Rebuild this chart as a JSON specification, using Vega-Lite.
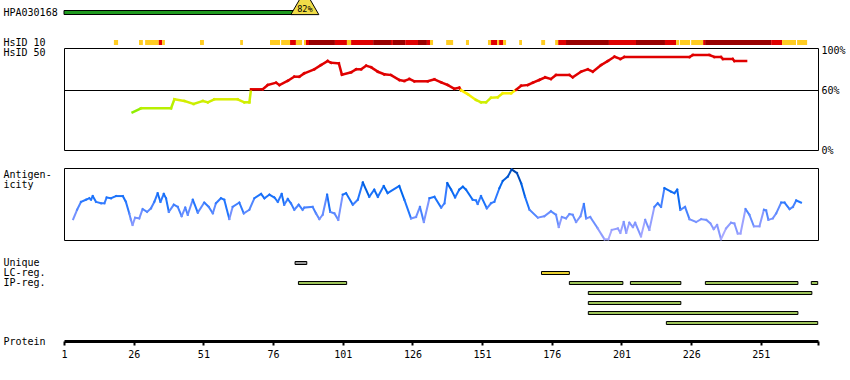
{
  "$schema": "https://vega.github.io/schema/vega-lite/v6.json",
  "background": "white",
  "padding": {"left": 2, "top": 0, "right": 2, "bottom": 2},
  "config": {
    "font": "DejaVu Sans Mono",
    "view": {"stroke": null},
    "axis": {"labelFont": "DejaVu Sans Mono", "titleFont": "DejaVu Sans Mono", "labelFontSize": 10, "titleFontSize": 10, "titleFontWeight": "normal", "labelColor": "black", "titleColor": "black", "grid": false}
  },
  "datasets": {
    "hpa": [{"track": "HPA030168", "s": 1, "e": 83.4, "c": 87.4, "label": "82%"}],
    "hs10": [
      {"track": "HsID 10", "s": 18.9, "e": 20.4, "l": "y"},
      {"track": "HsID 10", "s": 27.9, "e": 29.3, "l": "y"},
      {"track": "HsID 10", "s": 30.1, "e": 35.0, "l": "y"},
      {"track": "HsID 10", "s": 35.0, "e": 36.2, "l": "r"},
      {"track": "HsID 10", "s": 36.2, "e": 37.2, "l": "y"},
      {"track": "HsID 10", "s": 49.8, "e": 51.2, "l": "y"},
      {"track": "HsID 10", "s": 64.2, "e": 65.2, "l": "y"},
      {"track": "HsID 10", "s": 74.9, "e": 78.5, "l": "y"},
      {"track": "HsID 10", "s": 78.9, "e": 82.1, "l": "y"},
      {"track": "HsID 10", "s": 82.1, "e": 84.2, "l": "r"},
      {"track": "HsID 10", "s": 84.2, "e": 86.4, "l": "y"},
      {"track": "HsID 10", "s": 87.1, "e": 87.8, "l": "y"},
      {"track": "HsID 10", "s": 87.8, "e": 88.9, "l": "r"},
      {"track": "HsID 10", "s": 88.9, "e": 98.2, "l": "d"},
      {"track": "HsID 10", "s": 98.2, "e": 102.5, "l": "r"},
      {"track": "HsID 10", "s": 102.5, "e": 104.0, "l": "y"},
      {"track": "HsID 10", "s": 104.0, "e": 111.9, "l": "r"},
      {"track": "HsID 10", "s": 111.9, "e": 118.3, "l": "d"},
      {"track": "HsID 10", "s": 118.3, "e": 119.0, "l": "r"},
      {"track": "HsID 10", "s": 119.0, "e": 123.4, "l": "d"},
      {"track": "HsID 10", "s": 123.4, "e": 128.0, "l": "r"},
      {"track": "HsID 10", "s": 128.0, "e": 131.2, "l": "d"},
      {"track": "HsID 10", "s": 131.2, "e": 132.3, "l": "r"},
      {"track": "HsID 10", "s": 132.3, "e": 133.4, "l": "y"},
      {"track": "HsID 10", "s": 138.1, "e": 140.6, "l": "y"},
      {"track": "HsID 10", "s": 145.2, "e": 146.3, "l": "y"},
      {"track": "HsID 10", "s": 153.1, "e": 154.2, "l": "y"},
      {"track": "HsID 10", "s": 154.2, "e": 156.4, "l": "r"},
      {"track": "HsID 10", "s": 156.4, "e": 157.1, "l": "y"},
      {"track": "HsID 10", "s": 157.1, "e": 158.5, "l": "r"},
      {"track": "HsID 10", "s": 158.5, "e": 159.6, "l": "y"},
      {"track": "HsID 10", "s": 164.3, "e": 165.3, "l": "y"},
      {"track": "HsID 10", "s": 172.2, "e": 173.6, "l": "y"},
      {"track": "HsID 10", "s": 177.2, "e": 178.3, "l": "y"},
      {"track": "HsID 10", "s": 178.3, "e": 181.1, "l": "r"},
      {"track": "HsID 10", "s": 181.1, "e": 196.5, "l": "d"},
      {"track": "HsID 10", "s": 196.5, "e": 206.2, "l": "r"},
      {"track": "HsID 10", "s": 206.2, "e": 216.6, "l": "d"},
      {"track": "HsID 10", "s": 216.6, "e": 220.6, "l": "r"},
      {"track": "HsID 10", "s": 220.6, "e": 221.7, "l": "y"},
      {"track": "HsID 10", "s": 222.0, "e": 225.6, "l": "y"},
      {"track": "HsID 10", "s": 226.0, "e": 230.3, "l": "y"},
      {"track": "HsID 10", "s": 230.3, "e": 231.0, "l": "r"},
      {"track": "HsID 10", "s": 231.0, "e": 254.7, "l": "d"},
      {"track": "HsID 10", "s": 254.7, "e": 258.6, "l": "r"},
      {"track": "HsID 10", "s": 258.6, "e": 263.6, "l": "y"},
      {"track": "HsID 10", "s": 264.0, "e": 267.6, "l": "y"}
    ],
    "hs50": [
      {"r": 25.6, "v": 37.7}, {"r": 28.6, "v": 41.7}, {"r": 39.4, "v": 41.7}, {"r": 40.6, "v": 50.7},
      {"r": 44.2, "v": 49}, {"r": 47.5, "v": 46}, {"r": 50.8, "v": 49}, {"r": 52.6, "v": 47.7},
      {"r": 54.9, "v": 50.7}, {"r": 63.3, "v": 50.7}, {"r": 65.7, "v": 47.7}, {"r": 67.5, "v": 47.7},
      {"r": 68.1, "v": 60.7}, {"r": 72.3, "v": 60.7}, {"r": 74.1, "v": 65}, {"r": 77.1, "v": 67.3},
      {"r": 78.3, "v": 65}, {"r": 81.3, "v": 69.3}, {"r": 83.6, "v": 73.3}, {"r": 85.4, "v": 73.3},
      {"r": 87.2, "v": 76.7}, {"r": 90.8, "v": 80.7}, {"r": 93.2, "v": 85}, {"r": 95.6, "v": 89},
      {"r": 96.8, "v": 87.3}, {"r": 99.6, "v": 86.7}, {"r": 100.7, "v": 75.3}, {"r": 104.0, "v": 77.7},
      {"r": 105.8, "v": 80.7}, {"r": 107.6, "v": 80.7}, {"r": 109.4, "v": 84.3}, {"r": 111.2, "v": 82.7},
      {"r": 113.6, "v": 78.3}, {"r": 115.9, "v": 75.7}, {"r": 118.3, "v": 75}, {"r": 121.3, "v": 70},
      {"r": 123.1, "v": 69}, {"r": 124.9, "v": 71}, {"r": 126.7, "v": 68.7}, {"r": 131.5, "v": 68.7},
      {"r": 133.9, "v": 70.7}, {"r": 136.3, "v": 67.7}, {"r": 138.7, "v": 65}, {"r": 141.0, "v": 61.3},
      {"r": 142.8, "v": 62.3}, {"r": 143.4, "v": 59.8}, {"r": 145.9, "v": 55.7}, {"r": 148.8, "v": 50},
      {"r": 150.6, "v": 47.7}, {"r": 152.4, "v": 47.7}, {"r": 154.2, "v": 52.3}, {"r": 156.6, "v": 52.7},
      {"r": 158.4, "v": 56.7}, {"r": 161.4, "v": 56.7}, {"r": 163.2, "v": 60.2}, {"r": 165.0, "v": 64.3},
      {"r": 167.4, "v": 65}, {"r": 169.2, "v": 67.3}, {"r": 171.5, "v": 70}, {"r": 173.6, "v": 72.7},
      {"r": 175.7, "v": 71}, {"r": 177.5, "v": 75}, {"r": 182.3, "v": 75}, {"r": 183.5, "v": 72.7},
      {"r": 186.5, "v": 78.3}, {"r": 188.9, "v": 80.7}, {"r": 190.7, "v": 78.3}, {"r": 193.7, "v": 85},
      {"r": 196.1, "v": 89}, {"r": 198.5, "v": 93.3}, {"r": 200.6, "v": 91}, {"r": 202.0, "v": 93},
      {"r": 225.4, "v": 93}, {"r": 226.6, "v": 95}, {"r": 232.5, "v": 95}, {"r": 234.3, "v": 93},
      {"r": 236.7, "v": 93}, {"r": 237.4, "v": 91}, {"r": 240.9, "v": 91}, {"r": 241.5, "v": 89},
      {"r": 245.7, "v": 89}
    ],
    "ag": [
      {"r": 4.3, "v": 29}, {"r": 5.7, "v": 42}, {"r": 7.1, "v": 53}, {"r": 8.9, "v": 56}, {"r": 10.1, "v": 58},
      {"r": 10.7, "v": 56}, {"r": 11.3, "v": 61}, {"r": 12.5, "v": 53}, {"r": 14.3, "v": 51}, {"r": 15.5, "v": 51},
      {"r": 16.3, "v": 59}, {"r": 17.9, "v": 58}, {"r": 19.7, "v": 61}, {"r": 22.1, "v": 61}, {"r": 23.2, "v": 53},
      {"r": 24.4, "v": 37}, {"r": 25.0, "v": 28}, {"r": 25.6, "v": 21}, {"r": 26.5, "v": 31}, {"r": 28.0, "v": 30},
      {"r": 29.2, "v": 43}, {"r": 30.8, "v": 39}, {"r": 32.2, "v": 44}, {"r": 33.4, "v": 53}, {"r": 34.6, "v": 65},
      {"r": 35.6, "v": 53}, {"r": 36.8, "v": 64}, {"r": 37.6, "v": 58}, {"r": 38.6, "v": 39}, {"r": 40.4, "v": 49},
      {"r": 41.8, "v": 46}, {"r": 43.2, "v": 33}, {"r": 44.5, "v": 45}, {"r": 45.4, "v": 35}, {"r": 47.2, "v": 56},
      {"r": 49.0, "v": 38}, {"r": 51.3, "v": 52}, {"r": 52.9, "v": 46}, {"r": 54.4, "v": 37}, {"r": 55.5, "v": 51},
      {"r": 57.3, "v": 58}, {"r": 58.5, "v": 56}, {"r": 60.3, "v": 29}, {"r": 61.5, "v": 46}, {"r": 63.9, "v": 52},
      {"r": 65.5, "v": 37}, {"r": 67.5, "v": 42}, {"r": 69.3, "v": 58}, {"r": 71.7, "v": 64}, {"r": 72.9, "v": 58},
      {"r": 74.7, "v": 63}, {"r": 76.5, "v": 59}, {"r": 77.7, "v": 53}, {"r": 79.1, "v": 64}, {"r": 80.0, "v": 49},
      {"r": 81.3, "v": 57}, {"r": 82.4, "v": 51}, {"r": 83.6, "v": 42}, {"r": 85.2, "v": 49}, {"r": 86.6, "v": 42},
      {"r": 87.2, "v": 45}, {"r": 90.2, "v": 46}, {"r": 91.4, "v": 37}, {"r": 92.6, "v": 29}, {"r": 93.8, "v": 35},
      {"r": 95.4, "v": 63}, {"r": 96.5, "v": 39}, {"r": 98.0, "v": 37}, {"r": 99.4, "v": 28}, {"r": 101.0, "v": 63},
      {"r": 102.2, "v": 65}, {"r": 104.6, "v": 49}, {"r": 106.4, "v": 56}, {"r": 108.2, "v": 80}, {"r": 110.5, "v": 60},
      {"r": 112.3, "v": 70}, {"r": 113.6, "v": 60}, {"r": 115.7, "v": 75}, {"r": 117.1, "v": 65}, {"r": 121.3, "v": 75},
      {"r": 123.1, "v": 56}, {"r": 125.5, "v": 30}, {"r": 127.3, "v": 32}, {"r": 128.7, "v": 46}, {"r": 130.1, "v": 25},
      {"r": 132.1, "v": 58}, {"r": 133.9, "v": 60}, {"r": 136.3, "v": 45}, {"r": 137.5, "v": 51}, {"r": 138.5, "v": 79},
      {"r": 139.9, "v": 70}, {"r": 141.3, "v": 59}, {"r": 142.8, "v": 70}, {"r": 144.1, "v": 74}, {"r": 145.2, "v": 70},
      {"r": 147.6, "v": 56}, {"r": 148.8, "v": 55}, {"r": 149.4, "v": 50}, {"r": 150.6, "v": 61}, {"r": 152.7, "v": 44},
      {"r": 154.2, "v": 51}, {"r": 155.4, "v": 53}, {"r": 157.2, "v": 72}, {"r": 158.4, "v": 82}, {"r": 160.2, "v": 88},
      {"r": 161.6, "v": 98}, {"r": 163.5, "v": 93}, {"r": 165.0, "v": 79}, {"r": 166.4, "v": 60}, {"r": 168.0, "v": 42},
      {"r": 171.0, "v": 31}, {"r": 173.3, "v": 33}, {"r": 175.7, "v": 40}, {"r": 177.5, "v": 35}, {"r": 178.5, "v": 18},
      {"r": 179.6, "v": 32}, {"r": 181.1, "v": 30}, {"r": 182.3, "v": 36}, {"r": 183.5, "v": 35}, {"r": 184.7, "v": 25},
      {"r": 186.3, "v": 33}, {"r": 187.5, "v": 50}, {"r": 188.3, "v": 30}, {"r": 189.8, "v": 32}, {"r": 192.5, "v": 16},
      {"r": 194.9, "v": 1}, {"r": 196.3, "v": 1}, {"r": 197.5, "v": 14}, {"r": 199.7, "v": 16}, {"r": 200.6, "v": 10},
      {"r": 201.8, "v": 25}, {"r": 202.7, "v": 10}, {"r": 203.8, "v": 24}, {"r": 205.1, "v": 18}, {"r": 205.9, "v": 24},
      {"r": 208.0, "v": 5}, {"r": 209.5, "v": 28}, {"r": 211.0, "v": 14}, {"r": 212.8, "v": 46}, {"r": 214.0, "v": 51},
      {"r": 215.2, "v": 46}, {"r": 216.4, "v": 72}, {"r": 218.8, "v": 67}, {"r": 220.0, "v": 65}, {"r": 221.0, "v": 70},
      {"r": 222.1, "v": 42}, {"r": 223.8, "v": 46}, {"r": 225.4, "v": 29}, {"r": 227.8, "v": 25}, {"r": 229.6, "v": 29},
      {"r": 231.4, "v": 28}, {"r": 232.9, "v": 23}, {"r": 234.1, "v": 15}, {"r": 235.3, "v": 21}, {"r": 236.7, "v": 1},
      {"r": 238.5, "v": 16}, {"r": 240.3, "v": 24}, {"r": 241.5, "v": 23}, {"r": 242.7, "v": 9}, {"r": 243.7, "v": 9},
      {"r": 245.5, "v": 43}, {"r": 246.9, "v": 35}, {"r": 248.5, "v": 19}, {"r": 250.5, "v": 19}, {"r": 252.1, "v": 42},
      {"r": 252.9, "v": 41}, {"r": 253.7, "v": 28}, {"r": 255.3, "v": 30}, {"r": 256.5, "v": 37}, {"r": 258.3, "v": 52},
      {"r": 259.5, "v": 52}, {"r": 261.3, "v": 43}, {"r": 262.5, "v": 46}, {"r": 263.7, "v": 55}, {"r": 265.4, "v": 52}
    ],
    "feat": [
      {"s": 83.9, "e": 88.1, "row": 0, "type": "u"},
      {"s": 172.3, "e": 182.3, "row": 1, "type": "lc"},
      {"s": 85.1, "e": 102.4, "row": 2, "type": "ip"},
      {"s": 182.3, "e": 201.5, "row": 2, "type": "ip"},
      {"s": 204.2, "e": 222.3, "row": 2, "type": "ip"},
      {"s": 231.1, "e": 264.3, "row": 2, "type": "ip"},
      {"s": 269.1, "e": 271.4, "row": 2, "type": "ip"},
      {"s": 189.1, "e": 269.3, "row": 3, "type": "ip"},
      {"s": 189.1, "e": 222.3, "row": 4, "type": "ip"},
      {"s": 189.1, "e": 264.3, "row": 5, "type": "ip"},
      {"s": 217.1, "e": 271.4, "row": 6, "type": "ip"}
    ]
  },
  "bounds": "flush",
  "spacing": 0,
  "vconcat": [
    {
      "width": 754,
      "height": 25,
      "data": {"name": "hpa"},
      "layer": [
        {
          "mark": {"type": "bar", "height": 4, "fill": "#1f9a1f", "stroke": "black", "strokeWidth": 1},
          "encoding": {
            "x": {"field": "s", "type": "quantitative", "scale": {"domain": [1, 271.5], "nice": false, "zero": false}, "axis": null},
            "x2": {"field": "e"},
            "y": {"field": "track", "type": "nominal", "axis": {"ticks": false, "tickSize": 0, "domain": false, "labelAlign": "left", "labelPadding": 61, "labelBaseline": "middle", "title": null}}
          }
        },
        {
          "mark": {"type": "point", "shape": "triangle-up", "size": 784, "filled": true, "fill": "#f0dc48", "stroke": "black", "strokeWidth": 1, "opacity": 1, "yOffset": -10, "clip": true},
          "encoding": {
            "x": {"field": "c", "type": "quantitative", "scale": {"domain": [1, 271.5], "nice": false, "zero": false}, "axis": null},
            "y": {"field": "track", "type": "nominal", "axis": {"ticks": false, "tickSize": 0, "domain": false, "labelAlign": "left", "labelPadding": 61, "labelBaseline": "middle", "title": null}}
          }
        },
        {
          "mark": {"type": "text", "fontSize": 8.5, "color": "black", "yOffset": -3.2, "baseline": "middle", "align": "center"},
          "encoding": {
            "x": {"field": "c", "type": "quantitative", "scale": {"domain": [1, 271.5], "nice": false, "zero": false}, "axis": null},
            "y": {"field": "track", "type": "nominal", "axis": {"ticks": false, "tickSize": 0, "domain": false, "labelAlign": "left", "labelPadding": 61, "labelBaseline": "middle", "title": null}},
            "text": {"field": "label"}
          }
        }
      ]
    },
    {
      "width": 754,
      "height": 23,
      "data": {"name": "hs10"},
      "mark": {"type": "bar", "height": 5, "yOffset": 6},
      "encoding": {
        "x": {"field": "s", "type": "quantitative", "scale": {"domain": [1, 271.5], "nice": false, "zero": false}, "axis": null},
        "x2": {"field": "e"},
        "y": {"field": "track", "type": "nominal", "axis": {"ticks": false, "tickSize": 0, "domain": false, "labelAlign": "left", "labelPadding": 61, "labelBaseline": "middle", "labelOffset": 6, "title": null}},
        "color": {"field": "l", "type": "nominal", "scale": {"domain": ["y", "r", "d"], "range": ["#ffcc22", "#e00000", "#990000"]}, "legend": null}
      }
    },
    {
      "width": 754,
      "height": 102,
      "view": {"stroke": "black", "strokeWidth": 1},
      "layer": [
        {
          "data": {"values": [{}]},
          "mark": {"type": "rule", "color": "black", "strokeWidth": 1, "yOffset": 0.5},
          "encoding": {
            "y": {"datum": 60, "type": "quantitative", "scale": {"domain": [0, 102], "nice": false, "zero": false},
              "axis": {"orient": "right", "values": [0, 60, 100], "labelExpr": "datum.value + '%'", "ticks": false, "tickSize": 0, "domain": false, "labelPadding": 3, "labelBaseline": "middle", "labelAlign": "left", "title": "HsID 50", "titleX": -815, "titleY": 4.5, "titleAngle": 0, "titleAlign": "left", "titleBaseline": "middle", "grid": false}}
          }
        },
        {
          "data": {"name": "hs50"},
          "transform": [
            {"window": [{"op": "lead", "field": "r", "as": "r2"}, {"op": "lead", "field": "v", "as": "v2"}], "sort": [{"field": "r"}]},
            {"filter": "datum.r2 != null"}
          ],
          "mark": {"type": "rule", "strokeWidth": 2.5, "strokeCap": "square"},
          "encoding": {
            "x": {"field": "r", "type": "quantitative", "scale": {"domain": [1, 271.5], "nice": false, "zero": false}, "axis": null},
            "x2": {"field": "r2"},
            "y": {"field": "v", "type": "quantitative", "scale": {"domain": [0, 102], "nice": false, "zero": false},
              "axis": {"orient": "right", "values": [0, 60, 100], "labelExpr": "datum.value + '%'", "ticks": false, "tickSize": 0, "domain": false, "labelPadding": 3, "labelBaseline": "middle", "labelAlign": "left", "title": "HsID 50", "titleX": -815, "titleY": 4.5, "titleAngle": 0, "titleAlign": "left", "titleBaseline": "middle", "grid": false}},
            "y2": {"field": "v2"},
            "color": {"field": "v", "type": "quantitative", "scale": {"type": "linear", "domain": [37, 42, 50, 56, 59.9, 60, 100], "range": ["#88ee00", "#bbf000", "#d4ee00", "#f5f000", "#ffee00", "#e00000", "#e00000"]}, "legend": null}
          }
        }
      ]
    },
    {
      "width": 754,
      "height": 17.5,
      "data": {"values": [{}]},
      "mark": {"type": "text", "text": ""},
      "encoding": {}
    },
    {
      "width": 754,
      "height": 72,
      "view": {"stroke": "black", "strokeWidth": 1},
      "data": {"name": "ag"},
      "transform": [
        {"window": [{"op": "lead", "field": "r", "as": "r2"}, {"op": "lead", "field": "v", "as": "v2"}], "sort": [{"field": "r"}]},
        {"filter": "datum.r2 != null"}
      ],
      "mark": {"type": "rule", "strokeWidth": 2, "strokeCap": "square"},
      "encoding": {
        "x": {"field": "r", "type": "quantitative", "scale": {"domain": [1, 271.5], "nice": false, "zero": false}, "axis": null},
        "x2": {"field": "r2"},
        "y": {"field": "v", "type": "quantitative", "scale": {"domain": [0, 100], "nice": false, "zero": false},
          "axis": {"orient": "left", "labels": false, "ticks": false, "domain": false, "grid": false, "title": ["Antigen-", "icity"], "titleX": -61, "titleY": 1.5, "titleAngle": 0, "titleAlign": "left", "titleBaseline": "top", "titleLineHeight": 10}},
        "y2": {"field": "v2"},
        "color": {"field": "v", "type": "quantitative", "scale": {"type": "linear", "domain": [0, 20, 40, 55, 75, 100], "range": ["#aaaaff", "#8899ff", "#5588ff", "#2277ff", "#0066ee", "#0044aa"]}, "legend": null}
      }
    },
    {
      "width": 754,
      "height": 17.5,
      "data": {"values": [{}]},
      "mark": {"type": "text", "text": ""},
      "encoding": {}
    },
    {
      "width": 754,
      "height": 80,
      "data": {"name": "feat"},
      "mark": {"type": "bar", "height": 3, "stroke": "black", "strokeWidth": 1},
      "encoding": {
        "x": {"field": "s", "type": "quantitative", "scale": {"domain": [1, 271.5], "nice": false, "zero": false},
          "axis": {"orient": "bottom", "values": [1, 26, 51, 76, 101, 126, 151, 176, 201, 226, 251, 271.5], "labelExpr": "datum.value > 260 ? '' : datum.label", "domainColor": "black", "domainWidth": 3, "tickColor": "black", "tickWidth": 2, "tickSize": 4, "labelPadding": 4, "offset": 3, "grid": false, "labelFlush": false, "labelOverlap": false, "title": "Protein", "titleX": -61, "titleY": 0, "titleAngle": 0, "titleAlign": "left", "titleBaseline": "middle"}},
        "x2": {"field": "e"},
        "y": {"field": "row", "type": "ordinal", "scale": {"domain": [0, 1, 2, 3, 4, 5, 6, 7], "paddingInner": 0, "paddingOuter": 0},
          "axis": {"labelExpr": "datum.value == 0 ? 'Unique' : datum.value == 1 ? 'LC-reg.' : datum.value == 2 ? 'IP-reg.' : ''", "ticks": false, "tickSize": 0, "domain": false, "labelAlign": "left", "labelPadding": 61, "labelBaseline": "middle", "title": null}},
        "color": {"field": "type", "type": "nominal", "scale": {"domain": ["u", "lc", "ip"], "range": ["#999999", "#e8d030", "#9dc35a"]}, "legend": null}
      }
    }
  ]
}
